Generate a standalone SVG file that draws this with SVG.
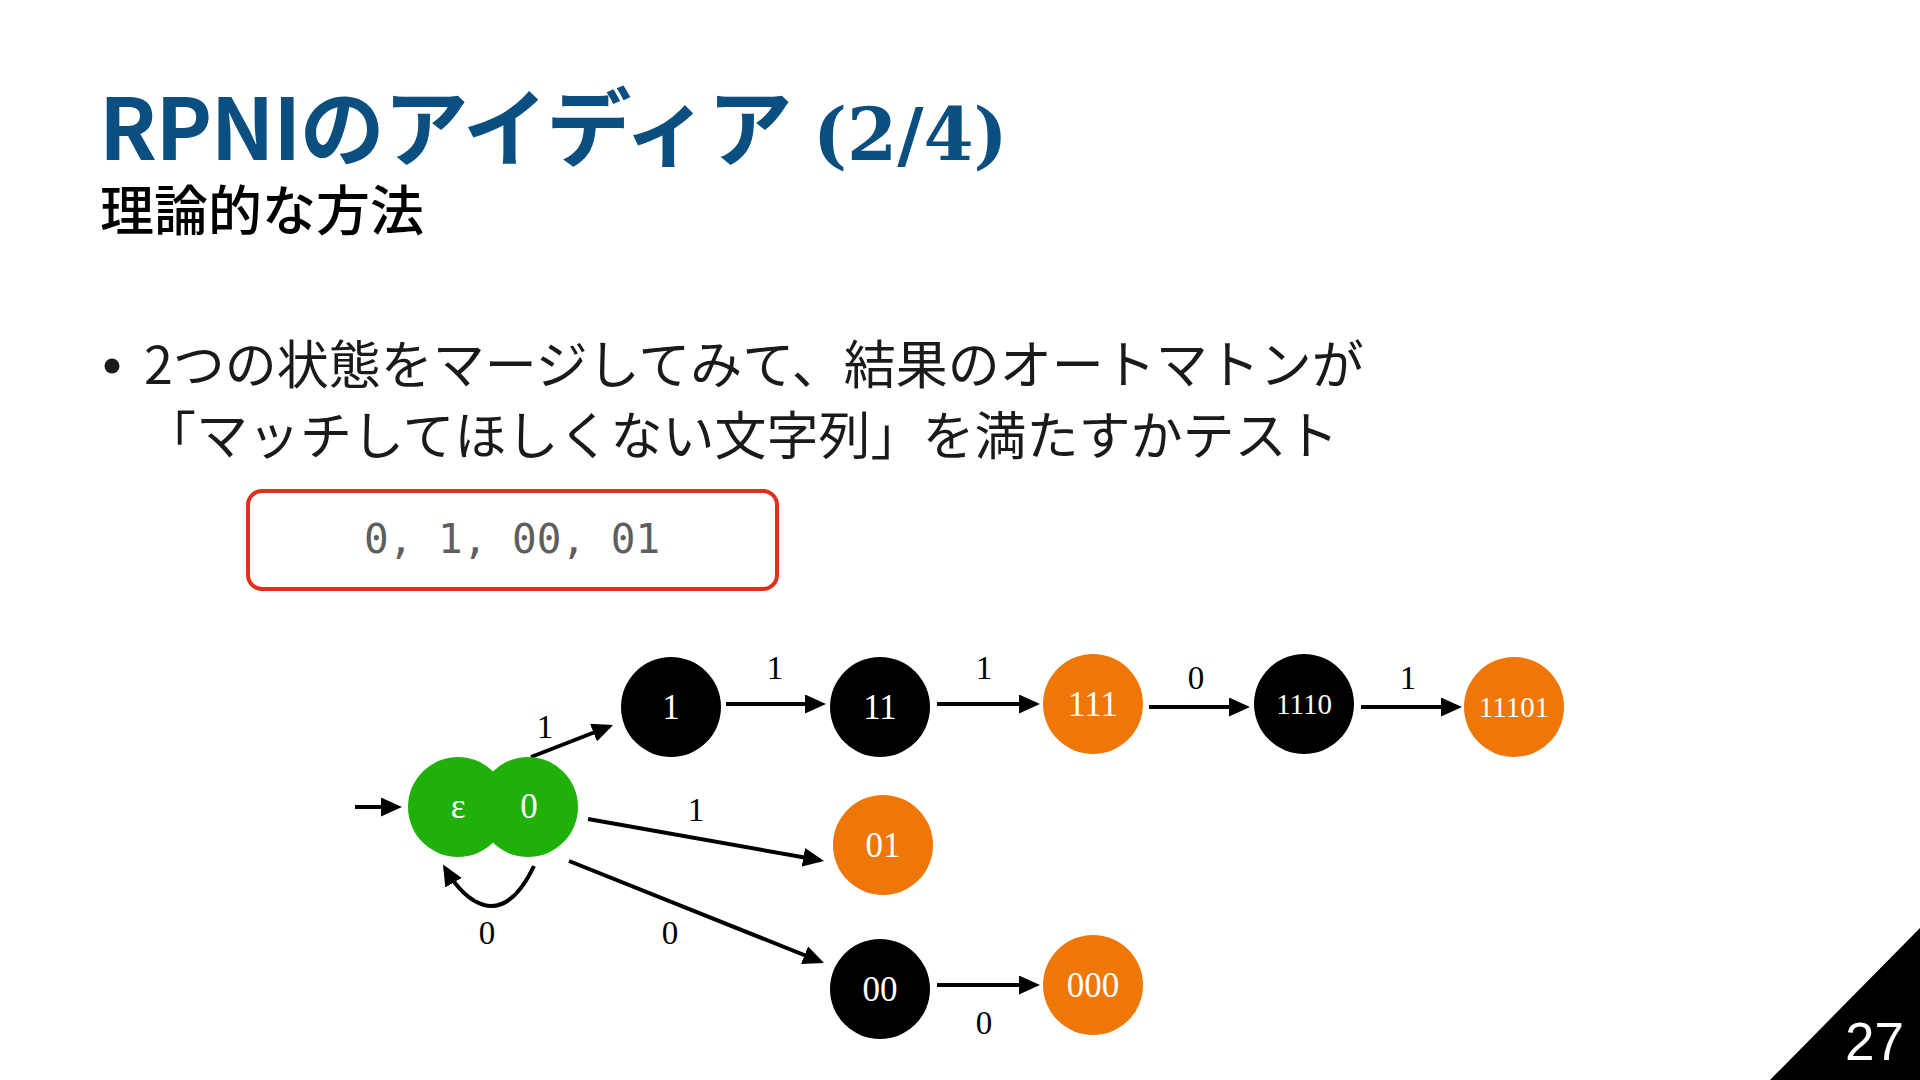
<svg xmlns="http://www.w3.org/2000/svg" width="1920" height="1080" viewBox="0 0 1920 1080">
<defs>
<style>
.title{font-family:"Noto Sans CJK JP","Noto Sans",sans-serif;font-weight:700;font-size:85px;letter-spacing:-1.4px;fill:#0b4f80}
.title2{font-family:"DejaVu Serif",serif;font-weight:700;font-size:72px;fill:#0b4f80}
.sub{font-family:"Noto Sans CJK JP",sans-serif;font-weight:500;font-size:54px;fill:#000}
.body{font-family:"Noto Sans CJK JP",sans-serif;font-size:52px;fill:#1a1a1a}
.mono{font-family:"DejaVu Sans Mono",monospace;font-size:41px;fill:#5e5e5e}
.nl{font-family:"Liberation Serif",serif;font-size:35px;fill:#fff;text-anchor:middle}
.nls{font-family:"Liberation Serif",serif;font-size:29px;fill:#fff;text-anchor:middle}
.el{font-family:"Liberation Serif",serif;font-size:33px;fill:#000;text-anchor:middle}
.edge{fill:none;stroke:#000;stroke-width:4;marker-end:url(#ah)}
.blk{fill:#000}
.org{fill:#ef7707}
.grn{fill:#20b00a}
</style>
<marker id="ah" viewBox="0 0 5.25 4.75" markerWidth="5.25" markerHeight="4.75" refX="4.25" refY="2.375" orient="auto" markerUnits="strokeWidth">
<path d="M0,0 L5.25,2.375 L0,4.75 z" fill="#000"/>
</marker>
</defs>
<rect width="1920" height="1080" fill="#fff"/>

<g id="title">
<text class="title" x="99" y="160">RPNIのアイディア</text>
<text class="title2" x="813" y="160">(2/4)</text>
</g>
<text id="subtitle" class="sub" x="100" y="231">理論的な方法</text>

<g id="bullet">
<circle cx="112" cy="366" r="7.5" fill="#1a1a1a"/>
<text class="body" x="144" y="384">2つの状態をマージしてみて、結果のオートマトンが</text>
<text class="body" x="144" y="455">「マッチしてほしくない文字列」を満たすかテスト</text>
</g>

<g id="negatives">
<rect x="248" y="491" width="529" height="98" rx="14" ry="14" fill="#fff" stroke="#e0301c" stroke-width="4"/>
<text class="mono" x="512" y="553" text-anchor="middle">0, 1, 00, 01</text>
</g>

<g id="connectors">
<path class="edge" d="M355,807 L398,807"/>
<path class="edge" d="M531,757 L609.3,726.5"/>
<path class="edge" d="M726,704 L822,704"/>
<path class="edge" d="M937,704 L1036,704"/>
<path class="edge" d="M1149,707 L1246,707"/>
<path class="edge" d="M1361,707 L1458,707"/>
<path class="edge" d="M588,819 L820.1,860.3"/>
<path class="edge" d="M569,861 L820.3,961.5"/>
<path class="edge" d="M937,985 L1036,985"/>
<path class="edge" d="M534,866 Q512,912 484,905 Q463,899 445,868"/>
<text class="el" x="545" y="738">1</text>
<text class="el" x="775" y="679">1</text>
<text class="el" x="984" y="679">1</text>
<text class="el" x="1196" y="689">0</text>
<text class="el" x="1408" y="689">1</text>
<text class="el" x="696" y="821">1</text>
<text class="el" x="670" y="944">0</text>
<text class="el" x="487" y="944">0</text>
<text class="el" x="984" y="1034">0</text>
</g>

<g id="node-eps0">
<circle class="grn" cx="458" cy="807" r="50"/>
<circle class="grn" cx="528" cy="807" r="50"/>
<text class="nl" x="458" y="818">ε</text>
<text class="nl" x="529" y="818">0</text>
</g>
<g id="node-1"><circle class="blk" cx="671" cy="707" r="50"/><text class="nl" x="671" y="719">1</text></g>
<g id="node-11"><circle class="blk" cx="880" cy="707" r="50"/><text class="nl" x="880" y="719">11</text></g>
<g id="node-111"><circle class="org" cx="1093" cy="704" r="50"/><text class="nl" x="1093" y="716">111</text></g>
<g id="node-1110"><circle class="blk" cx="1304" cy="704" r="50"/><text class="nls" x="1304" y="714">1110</text></g>
<g id="node-11101"><circle class="org" cx="1514" cy="707" r="50"/><text class="nls" x="1514" y="717">11101</text></g>
<g id="node-01"><circle class="org" cx="883" cy="845" r="50"/><text class="nl" x="883" y="857">01</text></g>
<g id="node-00"><circle class="blk" cx="880" cy="989" r="50"/><text class="nl" x="880" y="1001">00</text></g>
<g id="node-000"><circle class="org" cx="1093" cy="985" r="50"/><text class="nl" x="1093" y="997">000</text></g>

<g id="page">
<path d="M1770,1080 L1920,928 L1920,1080 z" fill="#000"/>
<text x="1904" y="1060" text-anchor="end" style="font-family:'Liberation Sans',sans-serif;font-size:53px;fill:#fff">27</text>
</g>
</svg>
